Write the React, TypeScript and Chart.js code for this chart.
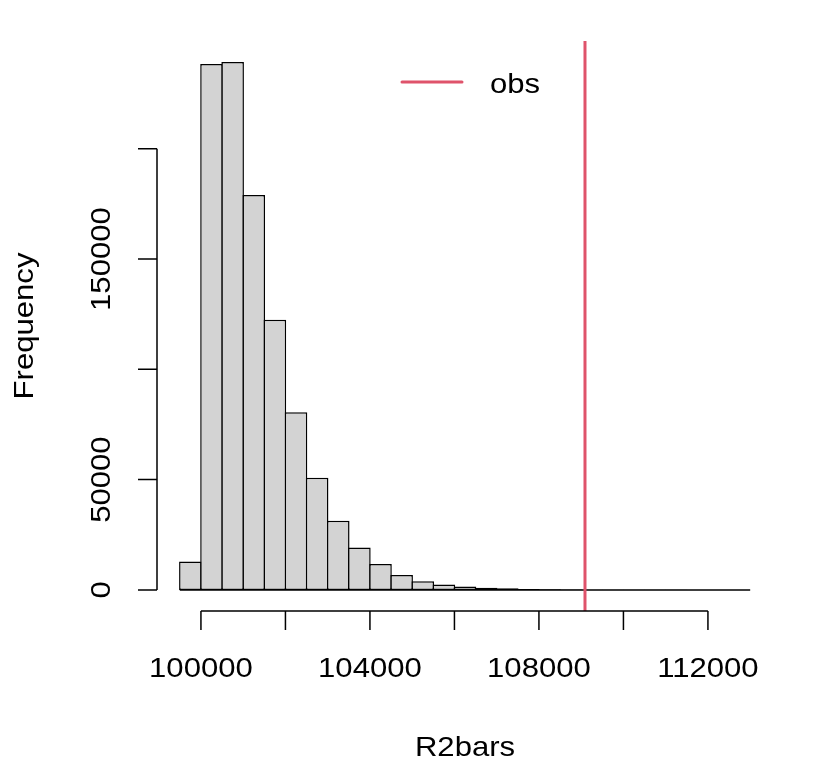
import { useEffect, useRef } from "react";
import { Chart, registerables } from "chart.js";

Chart.register(...registerables);

// histogram bins (left edges) and counts
const BIN_LEFT = [
  99500, 100000, 100500, 101000, 101500, 102000, 102500, 103000, 103500,
  104000, 104500, 105000, 105500, 106000, 106500, 107000, 107500, 108000,
  108500, 109000, 109500, 110000, 110500, 111000, 111500, 112000, 112500,
];
const BIN_WIDTH = 500;
const COUNTS = [
  12900, 238400, 239300, 179100, 122500, 80500, 50800, 31300, 19200,
  11700, 6800, 3900, 2500, 1500, 1000, 700, 400, 250,
  150, 90, 55, 30, 18, 10, 6, 3, 1,
];
const OBS = 109090;

const X_TICKS = [100000, 102000, 104000, 106000, 108000, 110000, 112000];
const X_LABELS = ["100000", "", "104000", "", "108000", "", "112000"];
const Y_TICKS = [0, 50000, 100000, 150000, 200000];
const Y_LABELS = ["0", "50000", "", "150000", ""];

const X_TITLE = "R2bars";
const Y_TITLE = "Frequency";
const LEGEND_LABEL = "obs";

const RED = "#DF536B";
const FONT = "28px 'Liberation Sans', Arial, Helvetica, sans-serif";
const TICK = 19;
const LW = 1.5;

// text a bit wider than Liberation Sans, like the reference
function text(ctx: CanvasRenderingContext2D, s: string, x: number, y: number, rot = 0, align: CanvasTextAlign = "center") {
  ctx.save();
  ctx.translate(x, y);
  if (rot) ctx.rotate(rot);
  ctx.scale(1.11, 1);
  ctx.textAlign = align;
  ctx.textBaseline = "alphabetic";
  ctx.fillText(s, 0, 0);
  ctx.restore();
}

// R-style axes (only over the tick range) and the legend
const rAxes = {
  id: "rAxes",
  afterDraw(chart: any) {
    const { ctx, chartArea: a, scales } = chart;
    const x = scales.x;
    const y = scales.y;
    ctx.save();
    ctx.strokeStyle = "#000";
    ctx.fillStyle = "#000";
    ctx.lineWidth = LW;
    ctx.font = FONT;

    // x axis
    const xs = X_TICKS.map((v) => x.getPixelForValue(v));
    ctx.beginPath();
    ctx.moveTo(xs[0], a.bottom);
    ctx.lineTo(xs[xs.length - 1], a.bottom);
    xs.forEach((px) => {
      ctx.moveTo(px, a.bottom);
      ctx.lineTo(px, a.bottom + TICK);
    });
    ctx.stroke();
    xs.forEach((px, i) => {
      if (X_LABELS[i]) text(ctx, X_LABELS[i], px, a.bottom + 66);
    });
    text(ctx, X_TITLE, (a.left + a.right) / 2, a.bottom + 145);

    // y axis
    const ys = Y_TICKS.map((v) => y.getPixelForValue(v));
    ctx.beginPath();
    ctx.moveTo(a.left, ys[0]);
    ctx.lineTo(a.left, ys[ys.length - 1]);
    ys.forEach((py) => {
      ctx.moveTo(a.left, py);
      ctx.lineTo(a.left - TICK, py);
    });
    ctx.stroke();
    ys.forEach((py, i) => {
      if (Y_LABELS[i]) text(ctx, Y_LABELS[i], a.left - 47, py, -Math.PI / 2);
    });
    text(ctx, Y_TITLE, a.left - 124, (a.top + a.bottom) / 2, -Math.PI / 2);

    // legend ("top", no box)
    const cx = (a.left + a.right) / 2;
    ctx.strokeStyle = RED;
    ctx.lineWidth = 3;
    ctx.lineCap = "round";
    ctx.beginPath();
    ctx.moveTo(cx - 63, a.top + 41);
    ctx.lineTo(cx - 3, a.top + 41);
    ctx.stroke();
    text(ctx, LEGEND_LABEL, cx + 25, a.top + 52, 0, "left");
    ctx.restore();
  },
};

export default function App() {
  const canvasRef = useRef<HTMLCanvasElement | null>(null);

  useEffect(() => {
    const canvas = canvasRef.current;
    if (!canvas) return;

    const xLo = BIN_LEFT[0];
    const xHi = BIN_LEFT[BIN_LEFT.length - 1] + BIN_WIDTH;
    const yHi = Math.max(...COUNTS);
    const xPad = (xHi - xLo) * 0.04;
    const yPad = yHi * 0.04;

    const chart = new Chart(canvas, {
      type: "bar",
      data: {
        datasets: [
          {
            type: "line",
            label: LEGEND_LABEL,
            data: [
              { x: OBS, y: -yPad },
              { x: OBS, y: yHi + yPad },
            ],
            borderColor: RED,
            borderWidth: 3,
            pointRadius: 0,
          },
          {
            type: "line",
            label: "base",
            data: [
              { x: xLo, y: 0 },
              { x: xHi, y: 0 },
            ],
            borderColor: "#000",
            borderWidth: LW,
            pointRadius: 0,
          },
          {
            type: "bar",
            label: "R2bars",
            data: BIN_LEFT.map((l, i) => ({ x: l + BIN_WIDTH / 2, y: COUNTS[i] })),
            backgroundColor: "#D3D3D3",
            borderColor: "#000",
            borderWidth: LW,
            borderSkipped: false,
            barPercentage: 1.07,
            categoryPercentage: 1,
          },
        ],
      } as any,
      options: {
        responsive: false,
        maintainAspectRatio: false,
        animation: false,
        layout: { padding: { left: 157, right: 43, top: 41, bottom: 157 } },
        plugins: {
          legend: { display: false },
          tooltip: { enabled: false },
          title: { display: false },
        },
        scales: {
          x: {
            type: "linear",
            display: false,
            offset: false,
            min: xLo - xPad,
            max: xHi + xPad,
          },
          y: {
            type: "linear",
            display: false,
            min: -yPad,
            max: yHi + yPad,
          },
        },
      },
      plugins: [rAxes],
    });
    return () => chart.destroy();
  }, []);

  return (
    <div
      style={{
        position: "absolute",
        left: 0,
        top: 0,
        width: 816,
        height: 768,
        background: "#fff",
      }}
    >
      <canvas ref={canvasRef} width={816} height={768} />
    </div>
  );
}
